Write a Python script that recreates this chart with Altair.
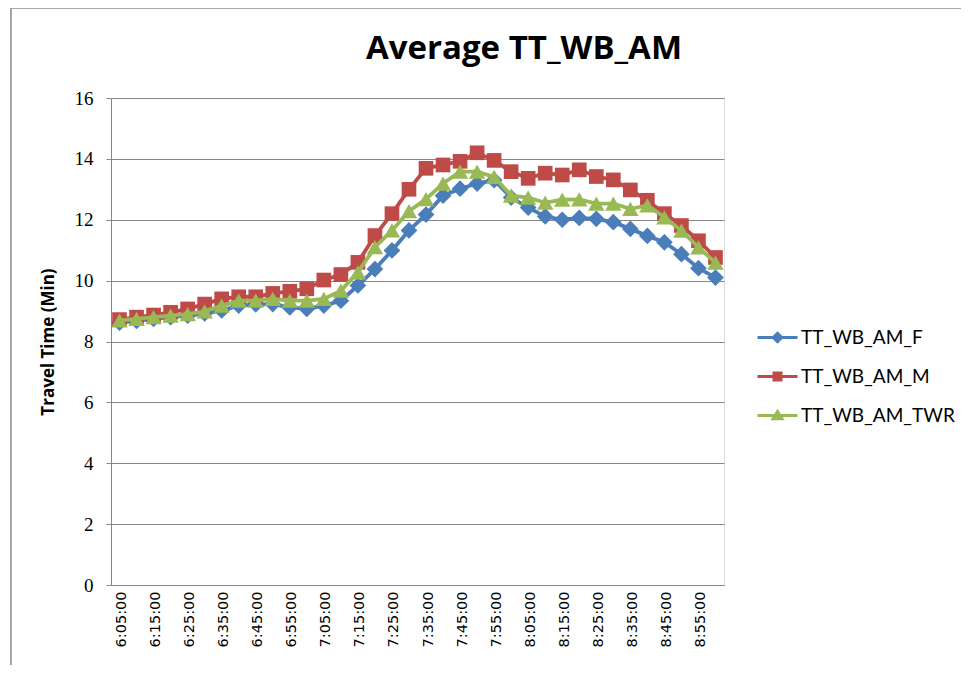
import altair as alt
import pandas as pd

times = ["6:05:00", "6:10:00", "6:15:00", "6:20:00", "6:25:00", "6:30:00",
         "6:35:00", "6:40:00", "6:45:00", "6:50:00", "6:55:00", "7:00:00",
         "7:05:00", "7:10:00", "7:15:00", "7:20:00", "7:25:00", "7:30:00",
         "7:35:00", "7:40:00", "7:45:00", "7:50:00", "7:55:00", "8:00:00",
         "8:05:00", "8:10:00", "8:15:00", "8:20:00", "8:25:00", "8:30:00",
         "8:35:00", "8:40:00", "8:45:00", "8:50:00", "8:55:00", "9:00:00"]

tick_labels = ["6:05:00", "6:15:00", "6:25:00", "6:35:00", "6:45:00", "6:55:00",
               "7:05:00", "7:15:00", "7:25:00", "7:35:00", "7:45:00", "7:55:00",
               "8:05:00", "8:15:00", "8:25:00", "8:35:00", "8:45:00", "8:55:00"]

tt_f = [8.62, 8.68, 8.74, 8.80, 8.85, 8.92, 9.02, 9.18, 9.22, 9.23, 9.12, 9.07,
        9.18, 9.34, 9.84, 10.38, 10.99, 11.65, 12.17, 12.79, 13.02, 13.19, 13.30, 12.73,
        12.40, 12.11, 12.00, 12.06, 12.03, 11.92, 11.70, 11.47, 11.26, 10.87, 10.41, 10.10]

tt_m = [8.72, 8.80, 8.87, 8.96, 9.07, 9.23, 9.40, 9.47, 9.47, 9.58, 9.65, 9.73,
        10.02, 10.20, 10.60, 11.48, 12.20, 13.00, 13.69, 13.80, 13.92, 14.20, 13.95, 13.58,
        13.36, 13.53, 13.47, 13.64, 13.42, 13.31, 12.98, 12.64, 12.20, 11.81, 11.31, 10.76]

tt_twr = [8.69, 8.74, 8.80, 8.85, 8.90, 8.99, 9.18, 9.34, 9.34, 9.40, 9.34, 9.34,
          9.40, 9.67, 10.27, 11.10, 11.65, 12.28, 12.68, 13.19, 13.58, 13.58, 13.41, 12.79,
          12.73, 12.56, 12.66, 12.67, 12.53, 12.53, 12.36, 12.47, 12.08, 11.64, 11.09, 10.59]

series_names = ["TT_WB_AM_F", "TT_WB_AM_M", "TT_WB_AM_TWR"]
series_values = [tt_f, tt_m, tt_twr]
colors = ["#4A7EBB", "#BE4B48", "#98B954"]
shapes = ["diamond", "square", "triangle-up"]
shape_sizes = [280, 215, 270]
legend_paths = [
    "M-4,0H4M0,-0.85L0.85,0L0,0.85L-0.85,0Z",
    "M-4,0H4M-0.7,-0.7H0.7V0.7H-0.7Z",
    "M-4,0H4M0,-0.8L0.9,0.65H-0.9Z",
]

rows = []
for name, vals in zip(series_names, series_values):
    for t, v in zip(times, vals):
        rows.append({"time": t, "series": name, "value": v})
df = pd.DataFrame(rows)

x_enc = alt.X("time:N", sort=times,
              scale=alt.Scale(type="point", domain=times, padding=0.5),
              axis=alt.Axis(values=tick_labels, labelAngle=270, labelFont="DejaVu Sans",
                            labelFontSize=14.5, labelColor="#000000", labelPadding=6,
                            labelOffset=2, ticks=False, domainColor="#868686",
                            domainWidth=1, grid=False, title=None))
y_enc = alt.Y("value:Q", scale=alt.Scale(domain=[0, 16], nice=False, zero=True),
              axis=alt.Axis(values=[0, 2, 4, 6, 8, 10, 12, 14, 16], labelFont="Liberation Serif",
                            labelFontSize=19, labelColor="#000000", labelPadding=13,
                            tickSize=5, tickColor="#868686", domainColor="#868686",
                            gridColor="#868686", gridWidth=1,
                            title="Travel Time (Min)", titleFont="Open Sans", titleFontSize=17,
                            titleFontWeight="bold", titleColor="#000000", titleAngle=270,
                            titleX=-63, titleY=243.5, titleAlign="center",
                            titleBaseline="middle"))

base = alt.Chart(df)
layers = []
for name, col, shp, sz in zip(series_names, colors, shapes, shape_sizes):
    sub = base.transform_filter(alt.datum.series == name)
    layers.append(sub.mark_line(color=col, strokeWidth=3.8).encode(x=x_enc, y=y_enc))
    layers.append(sub.mark_point(filled=True, shape=shp, size=sz, color=col, opacity=1,
                                 strokeWidth=0).encode(x=x_enc, y=y_enc))

# one single-entry legend per series (line + marker symbol), placed in a column
LX = 657
LY = [230, 269, 308]
legend_layers = []
for k, (name, col, path) in enumerate(zip(series_names, colors, legend_paths)):
    sub = base.transform_filter(alt.datum.series == name)
    legend_layers.append(sub.mark_point(filled=True, opacity=0, size=100).encode(
        x=x_enc, y=y_enc,
        color=alt.Color("series:N", scale=alt.Scale(domain=[name], range=[col]),
                        legend=alt.Legend(title=None, orient="none", legendX=LX, legendY=LY[k],
                                          labelFont="Lato", labelFontSize=19,
                                          labelColor="#000000", symbolSize=100,
                                          symbolType=path, symbolStrokeColor=col,
                                          symbolStrokeWidth=3, symbolOpacity=1,
                                          symbolFillColor=col,
                                          labelOffset=14, padding=0)),
    ))

frame = alt.Chart(pd.DataFrame({"a": [0]})).mark_rect(
    fill=None, stroke="#8C8C8C", strokeWidth=1.5
).encode(x=alt.value(-100), y=alt.value(-90), x2=alt.value(900), y2=alt.value(700))

chart = alt.layer(frame, *layers, *legend_layers).resolve_scale(
    color="independent"
).properties(
    width=613, height=487,
    title=alt.TitleParams("Average TT_WB_AM", font="Open Sans", fontSize=33, fontWeight="bold",
                          color="#000000", anchor="middle", frame="group", dx=106.5,
                          baseline="alphabetic", offset=0, dy=84.75),
    autosize=alt.AutoSizeParams(type="none"),
    padding={"left": 103, "top": 90, "right": 237, "bottom": 80},
).configure_view(stroke=None).configure(background="#FFFFFF")

chart.save("out.html", embed_options={"renderer": "svg", "actions": False})
